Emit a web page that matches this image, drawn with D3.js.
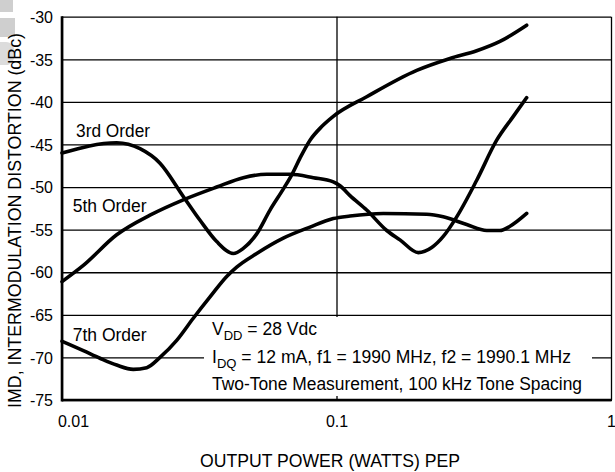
<!DOCTYPE html>
<html>
<head>
<meta charset="utf-8">
<script src="https://cdn.jsdelivr.net/npm/d3@7/dist/d3.min.js"></script>
<style>
  html, body { margin: 0; padding: 0; background: #fff; }
  svg { display: block; }
  text { font-family: "Liberation Sans", Arial, Helvetica, sans-serif; fill: #000; }
</style>
</head>
<body>
<svg id="chart" width="615" height="472"></svg>
<script>
// ---------- data ----------
const xTickValues = [0.01, 0.1, 1];
const xTickLabels = ["0.01", "0.1", "1"];
const yTickValues = [-30, -35, -40, -45, -50, -55, -60, -65, -70, -75];
const yTickLabels = ["-30", "-35", "-40", "-45", "-50", "-55", "-60", "-65", "-70", "-75"];

const seriesNames = ["3rd Order", "5th Order", "7th Order"];

// [output power (W PEP), IMD (dBc)]
const order3 = [
  [0.0100, -46.0], [0.01582, -44.8], [0.01924, -45.5], [0.02275, -47.2],
  [0.02766, -51.1], [0.03183, -53.9], [0.03661, -56.4], [0.04207, -57.8],
  [0.04576, -57.2], [0.0512, -55.5], [0.05725, -52.7], [0.06438, -50.1],
  [0.06885, -48.5], [0.07362, -46.6], [0.08008, -44.5], [0.08834, -42.9],
  [0.09734, -41.7], [0.1288, -39.4], [0.196, -36.3], [0.2592, -34.9],
  [0.3242, -34.0], [0.394, -32.9], [0.493, -31.0]
];
const order5 = [
  [0.0100, -61.1], [0.01196, -59.2], [0.01582, -55.6], [0.02092, -53.3],
  [0.02766, -51.5], [0.03661, -50.0], [0.04576, -48.9], [0.05569, -48.5],
  [0.0677, -48.5], [0.08234, -48.9], [0.09734, -49.4], [0.103, -49.85],
  [0.112, -51.0], [0.1288, -52.7], [0.1524, -55.1], [0.1703, -56.2],
  [0.1986, -57.7], [0.2223, -57.1], [0.2449, -55.8], [0.2741, -53.5],
  [0.3242, -49.2], [0.3833, -44.5], [0.4407, -41.7], [0.493, -39.5]
];
const order7 = [
  [0.0100, -68.1], [0.01196, -69.2], [0.01375, -70.1], [0.01582, -70.9],
  [0.01818, -71.4], [0.02035, -71.2], [0.02275, -70.0], [0.02617, -68.0],
  [0.03008, -65.4], [0.03461, -62.9], [0.03981, -60.5], [0.04329, -59.4],
  [0.0512, -57.8], [0.064, -56.0], [0.08008, -54.7], [0.09734, -53.7],
  [0.112, -53.4], [0.1481, -53.1], [0.2131, -53.2], [0.2449, -53.5],
  [0.298, -54.4], [0.3526, -55.1], [0.394, -55.1], [0.4286, -54.6],
  [0.493, -53.1]
];
// label anchor positions (data coords) for series names
const labelPositions = [[0.01125, -44.14], [0.01094, -52.91], [0.01094, -68.07]];

const noteLines = [
  [{t: "V"}, {t: "DD", sub: true}, {t: " = 28 Vdc"}],
  [{t: "I"}, {t: "DQ", sub: true}, {t: " = 12 mA, f1 = 1990 MHz, f2 = 1990.1 MHz"}],
  [{t: "Two-Tone Measurement, 100 kHz Tone Spacing"}]
];
const xTitle = "OUTPUT POWER (WATTS) PEP";
const yTitle = "IMD, INTERMODULATION DISTORTION (dBc)";

// ---------- layout ----------
const L = 62, R = 611, T = 16.7, B = 400;
const svg = d3.select("#chart");

const x = d3.scaleLog().domain([0.01, 1]).range([L, R]);
const y = d3.scaleLinear().domain([-75, -30]).range([B, T]);

// artifact shapes at left edge of the scan
svg.append("rect").attr("x", 0).attr("y", 0).attr("width", 13).attr("height", 12).attr("fill", "#cfcfcf");
svg.append("rect").attr("x", 0).attr("y", 18).attr("width", 15).attr("height", 19).attr("fill", "#cfcfcf");
svg.append("path").attr("d", "M0,42 L6,42 A9,11.5 0 0 1 6,65 L0,65 Z").attr("fill", "#dcdcdc");

// gridlines (horizontal)
const gy = svg.append("g").attr("transform", `translate(${L},0)`)
  .call(d3.axisLeft(y).tickValues(yTickValues)
        .tickSizeInner(-(R - L)).tickSizeOuter(0).tickPadding(9)
        .tickFormat((d, i) => yTickLabels[i]));
gy.select(".domain").remove();
gy.selectAll(".tick line").attr("stroke", "#000").attr("stroke-width", 1.3);
gy.selectAll(".tick text").attr("font-size", 16)
  .attr("font-family", "'Liberation Sans', Arial, sans-serif").attr("dy", "0.36em");

// gridlines (vertical)
const gx = svg.append("g").attr("transform", `translate(0,${B})`)
  .call(d3.axisBottom(x).tickValues(xTickValues)
        .tickSizeInner(-(B - T)).tickSizeOuter(0).tickPadding(16)
        .tickFormat((d, i) => xTickLabels[i]));
gx.select(".domain").remove();
gx.selectAll(".tick line").attr("stroke", "#000").attr("stroke-width", 1.3);
gx.selectAll(".tick text").attr("font-size", 16)
  .attr("font-family", "'Liberation Sans', Arial, sans-serif")
  .attr("dx", (d, i) => i === 0 ? 11 : 0);

// annotation box (white, covers grid)
svg.append("rect").attr("x", 204).attr("y", 317).attr("width", 388).attr("height", 79).attr("fill", "#fff");
const noteBaselines = [335, 363, 390];
const noteWidths = [105, 359, 370];
noteLines.forEach((parts, i) => {
  const t = svg.append("text").attr("x", 212).attr("y", noteBaselines[i]).attr("font-size", 17.5)
    .attr("textLength", noteWidths[i]).attr("lengthAdjust", "spacingAndGlyphs");
  parts.forEach(p => {
    const ts = t.append("tspan").text(p.t);
    if (p.sub) ts.attr("font-size", 13).attr("dy", 4.5);
    else if (ts.node().previousSibling) ts.attr("dy", -4.5);
  });
});

// curves
const line = d3.line().x(d => x(d[0])).y(d => y(d[1])).curve(d3.curveMonotoneX);
[order3, order5, order7].forEach(s => {
  svg.append("path").datum(s).attr("d", line)
    .attr("fill", "none").attr("stroke", "#000").attr("stroke-width", 3.6)
    .attr("stroke-linejoin", "round").attr("stroke-linecap", "round");
});

// series labels
seriesNames.forEach((n, i) => {
  svg.append("text").attr("x", x(labelPositions[i][0])).attr("y", y(labelPositions[i][1]))
    .attr("font-size", 17.5).attr("textLength", 74).attr("lengthAdjust", "spacingAndGlyphs").text(n);
});

// frame: thick left and bottom axes
svg.append("line").attr("x1", L).attr("x2", L).attr("y1", T - 0.5).attr("y2", B + 1.5)
  .attr("stroke", "#000").attr("stroke-width", 2.6);
svg.append("line").attr("x1", L).attr("x2", R + 1).attr("y1", B).attr("y2", B)
  .attr("stroke", "#000").attr("stroke-width", 2.6);

// axis titles
svg.append("text").attr("x", 200).attr("y", 467)
  .attr("font-size", 17.5).attr("textLength", 260).attr("lengthAdjust", "spacingAndGlyphs").text(xTitle);
svg.append("text").attr("transform", `translate(20.5,408) rotate(-90)`)
  .attr("font-size", 18).attr("textLength", 375).attr("lengthAdjust", "spacingAndGlyphs").text(yTitle);
</script>
</body>
</html>
